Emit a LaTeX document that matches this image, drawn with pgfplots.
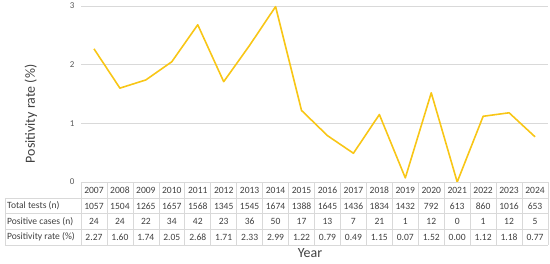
\documentclass[border=0pt]{standalone}
\usepackage{fontspec}
\setmainfont{Carlito}
\usepackage{pgfplots}
\usepackage{pgfplotstable}
\pgfplotsset{compat=1.18}

\definecolor{gold}{RGB}{248,198,22}
\definecolor{gridgray}{RGB}{217,217,217}
\definecolor{txt}{RGB}{64,64,64}
\definecolor{ticktxt}{RGB}{89,89,89}

\pgfplotstableread{
year tests pos rate
2007 1057 24 2.27
2008 1504 24 1.60
2009 1265 22 1.74
2010 1657 34 2.05
2011 1568 42 2.68
2012 1345 23 1.71
2013 1545 36 2.33
2014 1674 50 2.99
2015 1388 17 1.22
2016 1645 13 0.79
2017 1436 7 0.49
2018 1834 21 1.15
2019 1432 1 0.07
2020 792 12 1.52
2021 613 0 0.00
2022 860 1 1.12
2023 1016 12 1.18
2024 653 5 0.77
}\data

\begin{document}
\begin{tikzpicture}[x=1bp,y=1bp]
\path[use as bounding box] (-81,-81) rectangle (469,182);
\begin{axis}[
    at={(0,0)}, anchor=south west,
    scale only axis, width=467bp, height=176bp,
    xmin=-0.5, xmax=17.5, ymin=0, ymax=3,
    xtick=\empty, ytick={0,1,2,3},
    ymajorgrids, grid style={gridgray, line width=0.8pt},
    axis line style={draw=none}, major tick length=0pt,
    yticklabel style={font=\fontsize{9}{10}\selectfont, text=ticktxt, xshift=-3bp},
    /pgf/number format/assume math mode=true,
    clip=false,
]
\addplot[gold, line width=1.6pt, line join=round] table[x expr=\coordindex, y=rate] {\data};
\end{axis}

% data table below the plot
\def\cw{25.9444}
\draw[gridgray, line width=0.6pt] (0,0) -- (467,0);
\foreach \yy in {-16,-31.5,-47,-63} \draw[gridgray, line width=0.6pt] (-76,\yy) -- (467,\yy);
\draw[gridgray, line width=0.6pt] (-76,-16) -- (-76,-63);
\foreach \k in {0,...,18} \draw[gridgray, line width=0.6pt] (\k*\cw,0) -- (\k*\cw,-63);
\begin{scope}[every node/.style={font=\fontsize{9.6}{11}\selectfont, text=txt, inner sep=0pt}]
\node[anchor=west] at (-74,-24) {Total tests (n)};
\node[anchor=west] at (-74,-39.2) {Positive cases (n)};
\node[anchor=west] at (-74,-55) {Positivity rate (\%)};
\foreach \i in {0,...,17} {
  \pgfplotstablegetelem{\i}{year}\of\data \let\yr\pgfplotsretval
  \pgfplotstablegetelem{\i}{tests}\of\data \let\tt\pgfplotsretval
  \pgfplotstablegetelem{\i}{pos}\of\data \let\pp\pgfplotsretval
  \pgfplotstablegetelem{\i}{rate}\of\data \let\rr\pgfplotsretval
  \node at ({(\i+0.5)*\cw},-8) {\yr};
  \node at ({(\i+0.5)*\cw},-24) {\tt};
  \node at ({(\i+0.5)*\cw},-39.2) {\pp};
  \node at ({(\i+0.5)*\cw},-55) {\rr};
}
\end{scope}
\node[font=\fontsize{14}{16}\selectfont, text=txt] at (229,-71) {Year};
\node[font=\fontsize{14}{16}\selectfont, text=txt, rotate=90] at (-50,68) {Positivity rate (\%)};
\end{tikzpicture}
\end{document}
